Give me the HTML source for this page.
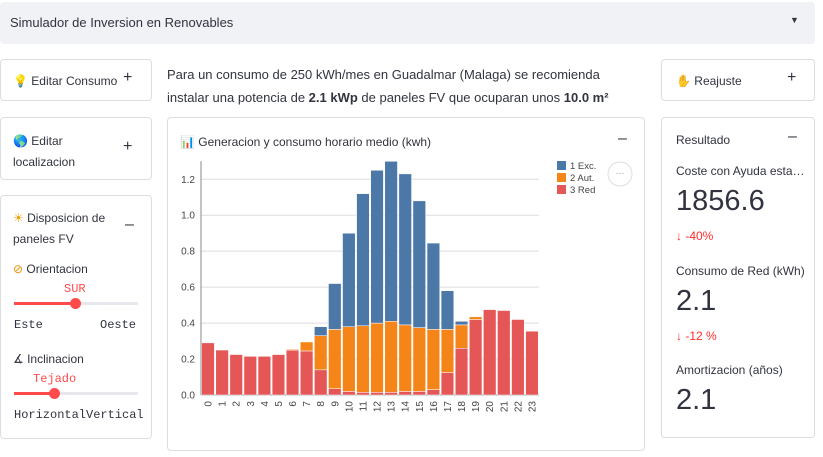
<!DOCTYPE html>
<html><head><meta charset="utf-8"><style>
body{margin:0;width:823px;height:457px;background:#fff;font-family:"Liberation Sans",sans-serif;color:#31333f;position:relative;overflow:hidden}
.a{position:absolute}
.card{position:absolute;border:1px solid #dcdde1;border-radius:4px;box-sizing:border-box;background:#fff}
.t{font-size:12px;position:absolute}
.pm{position:absolute;font-size:16px}
.mono{font-family:"Liberation Mono",monospace;font-size:12px;position:absolute}
</style></head><body>
<div class="a" style="left:0;top:2px;width:815px;height:42px;background:#f0f2f6;border-radius:4px">
<div class="a" style="left:10px;top:13px;font-size:13px">Simulador de Inversion en Renovables</div>
<div class="a" style="left:790px;top:13px;font-size:9px">▼</div>
</div>

<div class="card" style="left:0;top:59px;width:152px;height:42px">
<div class="t" style="left:12px;top:14px"><span style="color:#f5c542">💡</span> Editar Consumo</div>
<div class="pm" style="left:122px;top:9px">+</div></div>

<div class="card" style="left:0;top:117px;width:152px;height:63px">
<div class="t" style="left:12px;top:13px;line-height:21px">🌎 Editar<br>localizacion</div>
<div class="pm" style="left:122px;top:20px">+</div></div>

<div class="card" style="left:0;top:195px;width:152px;height:244px">
<div class="t" style="left:12px;top:12px;line-height:21px"><span style="color:#f5a000">☀</span> Disposicion de<br>paneles FV</div>
<div class="pm" style="left:124px;top:20px">–</div>
<div class="t" style="left:12px;top:66px"><span style="color:#f08c00">⊘</span> Orientacion</div>
<div class="mono" style="left:63px;top:86px;color:#ff4b4b">SUR</div>
<div class="a" style="left:13px;top:106px;width:124px;height:3px;background:#e6e8ee"></div>
<div class="a" style="left:13px;top:106px;width:62px;height:3px;background:#ff4b4b"></div>
<div class="a" style="left:69px;top:102px;width:11px;height:11px;border-radius:50%;background:#ff4b4b"></div>
<div class="mono" style="left:13px;top:122px">Este</div>
<div class="mono" style="left:99px;top:122px">Oeste</div>
<div class="t" style="left:12px;top:156px">∡ Inclinacion</div>
<div class="mono" style="left:32px;top:176px;color:#ff4b4b">Tejado</div>
<div class="a" style="left:13px;top:196px;width:124px;height:3px;background:#e6e8ee"></div>
<div class="a" style="left:13px;top:196px;width:41px;height:3px;background:#ff4b4b"></div>
<div class="a" style="left:48px;top:192px;width:11px;height:11px;border-radius:50%;background:#ff4b4b"></div>
<div class="mono" style="left:13px;top:212px">HorizontalVertical</div>
</div>

<div class="a" style="left:167px;top:63px;font-size:13px;line-height:23px;color:#31333f">Para un consumo de 250 kWh/mes en Guadalmar (Malaga) se recomienda<br>instalar una potencia de <b>2.1 kWp</b> de paneles FV que ocuparan unos <b>10.0 m²</b></div>

<div class="card" style="left:167px;top:117px;width:478px;height:334px">
<div class="t" style="left:12px;top:17px">📊 Generacion y consumo horario medio (kwh)</div>
<div class="pm" style="left:450px;top:12px">–</div>
</div>
<svg class="a" id="chart" style="left:0;top:0" width="823" height="457"></svg>

<div class="card" style="left:661px;top:59px;width:154px;height:42px">
<div class="t" style="left:14px;top:14px"><span style="color:#f5b041">✋</span> Reajuste</div>
<div class="pm" style="left:125px;top:9px">+</div></div>

<div class="card" style="left:661px;top:117px;width:154px;height:321px">
<div class="t" style="left:14px;top:15px">Resultado</div>
<div class="pm" style="left:126px;top:10px">–</div>
<div class="t" style="left:14px;top:46px">Coste con Ayuda esta…</div>
<div class="a" style="left:14px;top:67px;font-size:29px">1856.6</div>
<div class="t" style="left:14px;top:111px;color:#ff2b2b">↓ -40%</div>
<div class="t" style="left:14px;top:146px">Consumo de Red (kWh)</div>
<div class="a" style="left:14px;top:167px;font-size:29px">2.1</div>
<div class="t" style="left:14px;top:211px;color:#ff2b2b">↓ -12 %</div>
<div class="t" style="left:14px;top:245px">Amortizacion (años)</div>
<div class="a" style="left:14px;top:266px;font-size:29px">2.1</div>
</div>

<script>
const hours=["0","1","2","3","4","5","6","7","8","9","10","11","12","13","14","15","16","17","18","19","20","21","22","23"];
const red=[0.29,0.25,0.225,0.215,0.215,0.225,0.25,0.245,0.14,0.035,0.02,0.015,0.015,0.015,0.02,0.02,0.03,0.125,0.26,0.42,0.475,0.47,0.42,0.355];
const aut=[0,0,0,0,0,0,0.005,0.05,0.19,0.33,0.36,0.37,0.385,0.395,0.37,0.355,0.335,0.24,0.13,0.015,0,0,0,0];
const exc=[0,0,0,0,0,0,0,0,0.05,0.255,0.52,0.735,0.85,0.89,0.84,0.705,0.48,0.215,0.02,0,0,0,0,0];
const yTicks=[0,0.2,0.4,0.6,0.8,1.0,1.2];
const seriesNames=["1 Exc.","2 Aut.","3 Red"];
const colors=["#4c78a8","#f58518","#e45756"];
const NS="http://www.w3.org/2000/svg";
const svg=document.getElementById('chart');
const X0=201,X1=539,Y0=395,YMAX=1.3,YTOP=161.3;
const bw=(X1-X0)/hours.length;
const y=v=>Y0-(v/YMAX)*(Y0-YTOP);
const x=i=>X0+i*bw;
function mk(t,a){const e=document.createElementNS(NS,t);for(const k in a)e.setAttribute(k,a[k]);svg.appendChild(e);return e;}
yTicks.forEach(t=>{
 const g=mk('line',{x1:X0,x2:X1,y1:y(t),y2:y(t),stroke:'#ddd','stroke-width':1});
 
 
 const l=mk('text',{x:X0-6,y:y(t)+3.5,'text-anchor':'end','font-size':10,fill:'#444','font-family':'Liberation Sans, sans-serif'});
 l.textContent=t.toFixed(1);
 
 
});
const ax=mk('line',{x1:X0,x2:X0,y1:YTOP,y2:Y0,stroke:'#888'});


const bx=mk('line',{x1:X0,x2:X1,y1:Y0,y2:Y0,stroke:'#888'});


hours.forEach((h,i)=>{
 let base=0;
 [[red,2],[aut,1],[exc,0]].forEach(([arr,c])=>{
  const v=arr[i];
  if(v>0){
   const r=mk('rect',{x:x(i)+0.7,y:y(base+v),width:bw-1.4,height:y(base)-y(base+v),fill:colors[c],stroke:'#fff','stroke-width':0.5});
   
   
  }
  base+=v;
 });
 const cx=x(i)+bw/2;
 const t=mk('text',{x:0,y:0,transform:`translate(${cx+3.5},${Y0+6}) rotate(-90)`,'text-anchor':'end','font-size':10,fill:'#444','font-family':'Liberation Sans, sans-serif'});
 t.textContent=h;
 
 
});
seriesNames.forEach((n,i)=>{
 const r=mk('rect',{x:557,y:161+i*12,width:9,height:9,fill:colors[i]});
 
 
 const t=mk('text',{x:570,y:169+i*12,'font-size':9.5,fill:'#444','font-family':'Liberation Sans, sans-serif'});
 t.textContent=n;
 
 
});
const m=mk('circle',{cx:620,cy:174,r:12,fill:'#fff',stroke:'#ddd'});


const mt=mk('text',{x:620,y:176,'text-anchor':'middle','font-size':9,fill:'#999'});
mt.textContent='···';


</script>
</body></html>
